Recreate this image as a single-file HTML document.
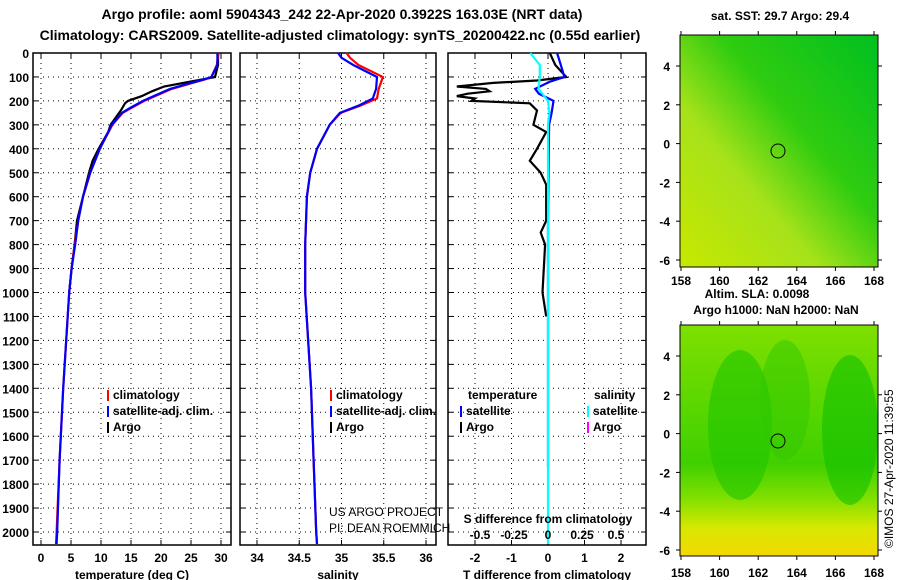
<!DOCTYPE html>
<html><head><meta charset="utf-8"><style>
html,body{margin:0;padding:0;background:#fff;}
svg{display:block;font-family:"Liberation Sans",sans-serif;}
.t{font-weight:bold;font-size:12px;fill:#000;}
.h{font-weight:bold;font-size:14px;fill:#000;}
</style></head><body>
<svg id="chart" width="900" height="580" viewBox="0 0 900 580">
<defs>
<linearGradient id="g1" x1="0" y1="1" x2="1" y2="0">
<stop offset="0" stop-color="#c8e800"/><stop offset="0.35" stop-color="#a6e21a"/><stop offset="0.6" stop-color="#30cc10"/><stop offset="1" stop-color="#00c020"/></linearGradient>
<linearGradient id="g2" x1="0" y1="0" x2="0" y2="1">
<stop offset="0" stop-color="#7ee000"/><stop offset="0.6" stop-color="#40d000"/><stop offset="0.75" stop-color="#80e000"/><stop offset="0.88" stop-color="#d8e800"/><stop offset="1" stop-color="#f4d800"/></linearGradient>
</defs>
<text class="h" x="342" y="19" text-anchor="middle">Argo profile: aoml 5904343_242 22-Apr-2020 0.3922S 163.03E (NRT data)</text>
<text class="h" x="340" y="40" text-anchor="middle">Climatology: CARS2009. Satellite-adjusted climatology: synTS_20200422.nc (0.55d earlier)</text>
<g id="plots"></g>
<g id="maps">
<rect x="680" y="35" width="198" height="232" fill="url(#g1)"/>
<rect x="680" y="325" width="198" height="231" fill="url(#g2)"/>
<ellipse cx="740" cy="425" rx="32" ry="75" fill="#20c400" opacity="0.6"/>
<ellipse cx="850" cy="430" rx="28" ry="75" fill="#10c000" opacity="0.6"/>
<ellipse cx="785" cy="400" rx="25" ry="60" fill="#30c800" opacity="0.5"/>
<circle cx="778" cy="151" r="7" fill="none" stroke="#000"/>
<circle cx="778" cy="441" r="7" fill="none" stroke="#000"/>
<text class="t" x="780" y="20" text-anchor="middle">sat. SST: 29.7 Argo: 29.4</text>
<text class="t" x="757" y="298" text-anchor="middle">Altim. SLA: 0.0098</text>
<text class="t" x="776" y="314" text-anchor="middle">Argo h1000: NaN h2000: NaN</text>
<text x="893" y="548" transform="rotate(-90 893 548)" font-size="12">©IMOS 27-Apr-2020 11:39:55</text>
</g>
</svg>
<script>
const NS="http://www.w3.org/2000/svg";
const depthTicks=[0,100,200,300,400,500,600,700,800,900,1000,1100,1200,1300,1400,1500,1600,1700,1800,1900,2000];
const tempTicks=[0,5,10,15,20,25,30];
const salTicks=[34,34.5,35,35.5,36];
const tdTicks=[-2,-1,0,1,2];
const sdTicks=[-0.5,-0.25,0,0.25,0.5];
const lonTicks=[158,160,162,164,166,168];
const latTicks=[4,2,0,-2,-4,-6];
// temperature
const tDepth=[0,50,100,110,130,150,200,230,250,300,400,500,600,700,800,900,1000,1400,1700,2000,2050];
const tClim=[29.6,29.3,28.4,27.4,24.6,21.8,17.2,15.0,13.6,11.9,9.8,8.2,7.0,6.2,5.6,5.1,4.7,3.7,3.1,2.6,2.5];
const tSat=[29.4,29.4,28.4,27.2,24.3,21.5,17.0,14.8,13.5,11.8,9.8,8.2,7.0,6.2,5.7,5.1,4.7,3.7,3.1,2.7,2.6];
const aDepth=[0,50,100,110,120,140,160,180,200,210,240,300,330,400,450,500,600,700,800,900,1000];
const tArgo=[29.5,29.5,29.0,27.0,24.8,20.5,18.5,16.8,14.5,14.0,13.3,11.6,11.2,9.6,8.6,8.0,7.0,6.0,5.6,5.1,4.7];
// salinity
const sDepth=[0,20,50,100,150,190,220,250,300,400,500,600,800,1000,1400,1700,2000,2050];
const sClim=[35.06,35.10,35.20,35.49,35.44,35.42,35.22,34.99,34.86,34.71,34.63,34.59,34.57,34.57,34.64,34.67,34.70,34.71];
const sSat=[34.96,35.0,35.14,35.42,35.41,35.37,35.20,34.98,34.86,34.71,34.63,34.59,34.57,34.57,34.64,34.67,34.70,34.71];
// differences
const dArgoDepth=[0,50,100,115,125,140,150,160,170,180,190,200,210,240,300,330,400,450,500,550,700,750,800,1000,1100];
const dArgoT=[0.05,0.2,0.5,-0.3,-1.5,-2.5,-1.7,-1.6,-2.2,-2.5,-2.0,-2.1,-0.5,-0.3,-0.4,-0.05,-0.3,-0.5,-0.2,-0.05,-0.05,-0.2,-0.08,-0.15,-0.05];
const dSatDepth=[0,50,100,120,150,170,200,250,300,700,1730];
const dSatT=[0.25,0.35,0.45,0.05,-0.35,-0.25,0.15,0.1,0.03,0.0,0.0];
const dSalDepth=[0,50,100,150,200,250,300,2050];
const dSatS=[-0.13,-0.06,-0.06,-0.07,0.0,0.01,0.0,0.0];

const g=document.getElementById('plots');
function el(tag,attrs,parent){const e=document.createElementNS(NS,tag);for(const k in attrs)e.setAttribute(k,attrs[k]);(parent||g).appendChild(e);return e;}
function yD(d){return 53+d*0.2395;}
const Y0=53,Y1=545;
function panel(x0,x1,xs,ticks,fmt,name,title){
  const p=el('g',{});
  
  
  ticks.forEach(v=>{const x=xs(v);
    el('line',{x1:x,y1:Y0,x2:x,y2:Y1,stroke:'#000','stroke-dasharray':'1,4'},p);
    el('line',{x1:x,y1:Y1,x2:x,y2:Y1-5,stroke:'#000'},p);
    el('line',{x1:x,y1:Y0,x2:x,y2:Y0+5,stroke:'#000'},p);
    const t=el('text',{x:x,y:562,'text-anchor':'middle',class:'t'},p);t.textContent=fmt(v);
    
    
  });
  depthTicks.forEach(d=>{const y=yD(d);
    el('line',{x1:x0,y1:y,x2:x1,y2:y,stroke:'#000','stroke-dasharray':'1,4'},p);
    el('line',{x1:x0,y1:y,x2:x0+5,y2:y,stroke:'#000'},p);
    el('line',{x1:x1,y1:y,x2:x1-5,y2:y,stroke:'#000'},p);
  });
  el('rect',{x:x0,y:Y0,width:x1-x0,height:Y1-Y0,fill:'none',stroke:'#000','stroke-width':1.5},p);
  const tt=el('text',{x:(x0+x1)/2,y:579,'text-anchor':'middle',class:'t'},p);tt.textContent=title;
  
  
  return p;
}
function line(p,xs,vals,depths,color,name){
  const pts=vals.map((v,i)=>xs(v).toFixed(1)+','+yD(depths[i]).toFixed(1)).join(' ');
  const l=el('polyline',{points:pts,fill:'none',stroke:color,'stroke-width':2.2},p);
  
  
}
function legend(p,x,y,color,txt){
  el('rect',{x:x,y:y-9,width:2,height:11,fill:color},p);
  const t=el('text',{x:x+6,y:y,class:'t'},p);t.textContent=txt;
  
  
}
depthTicks.forEach(d=>{const t=el('text',{x:29,y:yD(d)+5,'text-anchor':'end',class:'t'});t.textContent=d;
  
  });
const xT=v=>41+v*6;
const p1=panel(33,231,xT,tempTicks,v=>v,'temperature-panel','temperature (deg C)');
line(p1,xT,tArgo,aDepth,'#000','temp-argo');
line(p1,xT,tClim,tDepth,'#f00','temp-climatology');
line(p1,xT,tSat,tDepth,'#00f','temp-satellite');
legend(p1,107,399,'#f00','climatology');legend(p1,107,415,'#00f','satellite-adj. clim.');legend(p1,107,431,'#000','Argo');
const xS=v=>257+(v-34)*84.5;
const p2=panel(240,436,xS,salTicks,v=>v,'salinity-panel','salinity');
line(p2,xS,sClim,sDepth,'#f00','sal-climatology');
line(p2,xS,sSat,sDepth,'#00f','sal-satellite');
legend(p2,330,399,'#f00','climatology');legend(p2,330,415,'#00f','satellite-adj. clim.');legend(p2,330,431,'#000','Argo');
const u1=el('text',{x:329,y:516,'font-size':12},p2);u1.textContent='US ARGO PROJECT';
const u2=el('text',{x:329,y:532,'font-size':12},p2);u2.textContent='PI: DEAN ROEMMICH';
const xTD=v=>548+v*36.5;
const xSD=v=>548+v*136;
const p3=panel(448,646,xTD,tdTicks,v=>v,'difference-panel','T difference from climatology');
line(p3,xTD,dArgoT,dArgoDepth,'#000','tdiff-argo');
line(p3,xTD,dSatT,dSatDepth,'#00f','tdiff-satellite');
line(p3,xSD,dSatS,dSalDepth,'#0ff','sdiff-satellite');
const lt=el('text',{x:468,y:399,class:'t'},p3);lt.textContent='temperature';
const ls=el('text',{x:594,y:399,class:'t'},p3);ls.textContent='salinity';
legend(p3,460,415,'#00f','satellite');legend(p3,460,431,'#000','Argo');
legend(p3,587,415,'#0ff','satellite');legend(p3,587,431,'#f0f','Argo');
const sdt=el('text',{x:548,y:523,'text-anchor':'middle',class:'t'},p3);sdt.textContent='S difference from climatology';
sdTicks.forEach(v=>{const t=el('text',{x:xSD(v),y:539,'text-anchor':'middle',class:'t'},p3);t.textContent=v;
  
  });
const m=document.getElementById('maps');
function mapAxes(top,bot,lat4y,lblY){
  const xL=v=>681+(v-158)*19.3, yL=v=>lat4y+(4-v)*19.4;
  el('rect',{x:680,y:top,width:198,height:bot-top,fill:'none',stroke:'#000'},m);
  lonTicks.forEach(v=>{const x=xL(v);el('line',{x1:x,y1:bot,x2:x,y2:bot+4,stroke:'#000'},m);el('line',{x1:x,y1:top,x2:x,y2:top-4,stroke:'#000'},m);
    const t=el('text',{x:x,y:lblY,'text-anchor':'middle',class:'t'},m);t.textContent=v;
    
    });
  latTicks.forEach(v=>{const y=yL(v);el('line',{x1:676,y1:y,x2:680,y2:y,stroke:'#000'},m);el('line',{x1:878,y1:y,x2:882,y2:y,stroke:'#000'},m);
    const t=el('text',{x:670,y:y+5,'text-anchor':'end',class:'t'},m);t.textContent=v;
    
    });
}
mapAxes(35,267,66,285);
mapAxes(325,556,356,577);
</script>
</body></html>
